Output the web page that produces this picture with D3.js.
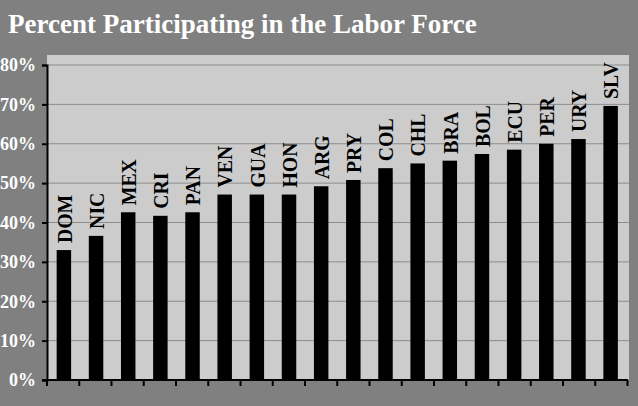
<!DOCTYPE html>
<html>
<head>
<meta charset="utf-8">
<script src="https://cdn.jsdelivr.net/npm/d3@7"></script>
<style>
  body { margin: 0; background: #808080; }
  svg { display: block; }
</style>
</head>
<body>
<svg id="chart"></svg>
<script>
const countries = ["DOM", "NIC", "MEX", "CRI", "PAN", "VEN", "GUA", "HON", "ARG",
    "PRY", "COL", "CHL", "BRA", "BOL", "ECU", "PER", "URY", "SLV"];
const participation = [33.0, 36.6, 42.6, 41.7, 42.6, 47.1, 47.1, 47.1, 49.2,
    50.8, 53.8, 55.0, 55.7, 57.4, 58.5, 60.0, 61.2, 69.6];
const yTicks = [0, 10, 20, 30, 40, 50, 60, 70, 80];

const width = 638, height = 406;
const plot = { left: 47, right: 629, top: 55, bottom: 380 };
const serif = "Liberation Serif";

const svg = d3.select("#chart")
    .attr("width", width)
    .attr("height", height);

svg.append("rect")
    .attr("width", width)
    .attr("height", height)
    .attr("fill", "#808080");

svg.append("text")
    .attr("x", 8)
    .attr("y", 33)
    .attr("fill", "#fff")
    .attr("font-family", serif)
    .attr("font-weight", "bold")
    .attr("font-size", 27)
    .text("Percent Participating in the Labor Force");

svg.append("rect")
    .attr("x", plot.left)
    .attr("y", plot.top)
    .attr("width", plot.right - plot.left)
    .attr("height", plot.bottom - plot.top)
    .attr("fill", "#cccccc");

const x = d3.scaleBand()
    .domain(countries)
    .range([plot.left, plot.right - 1.5])
    .paddingInner(0.55)
    .paddingOuter(0.3);

const y = d3.scaleLinear()
    .domain([0, 80])
    .range([plot.bottom, 65]);

// gridlines
svg.append("g")
    .selectAll("line")
    .data(yTicks.slice(1))
    .enter().append("line")
    .attr("x1", plot.left)
    .attr("x2", plot.right)
    .attr("y1", d => y(d))
    .attr("y2", d => y(d))
    .attr("stroke", "#8c8c8c")
    .attr("stroke-width", 1);

svg.append("g")
    .selectAll("rect")
    .data(countries)
    .enter().append("rect")
    .attr("x", d => x(d))
    .attr("width", x.bandwidth())
    .attr("y", (d, i) => y(participation[i]))
    .attr("height", (d, i) => plot.bottom - y(participation[i]))
    .attr("fill", "#000");

svg.append("g")
    .selectAll("text")
    .data(countries)
    .enter().append("text")
    .attr("transform", (d, i) =>
        `translate(${x(d) + x.bandwidth() / 2},${y(participation[i]) - 7}) rotate(-90) scale(0.9,1)`)
    .attr("dy", "0.35em")
    .attr("fill", "#000")
    .attr("font-family", serif)
    .attr("font-weight", "bold")
    .attr("font-size", 22)
    .text(d => d);

// y axis
const yAxis = svg.append("g")
    .attr("transform", `translate(${plot.left},0)`)
    .call(d3.axisLeft(y).tickValues(yTicks).tickFormat(d => d + "%").tickSize(5).tickPadding(6));
yAxis.select(".domain").attr("stroke", "#000").attr("stroke-width", 2);
yAxis.selectAll(".tick line").attr("stroke", "#000").attr("stroke-width", 2);
yAxis.selectAll(".tick text")
    .attr("fill", "#fff")
    .attr("font-family", serif)
    .attr("font-weight", "bold")
    .attr("font-size", 18);

// x axis: tick marks at category boundaries
const bounds = d3.range(countries.length + 1)
    .map(i => plot.left + i * (plot.right - 1.5 - plot.left) / countries.length);
svg.append("line")
    .attr("x1", plot.left - 5)
    .attr("x2", plot.right - 1)
    .attr("y1", plot.bottom)
    .attr("y2", plot.bottom)
    .attr("stroke", "#000")
    .attr("stroke-width", 2);
svg.append("g")
    .selectAll("line")
    .data(bounds)
    .enter().append("line")
    .attr("x1", d => d)
    .attr("x2", d => d)
    .attr("y1", plot.bottom)
    .attr("y2", plot.bottom + 6)
    .attr("stroke", "#000")
    .attr("stroke-width", 2);
</script>
</body>
</html>
